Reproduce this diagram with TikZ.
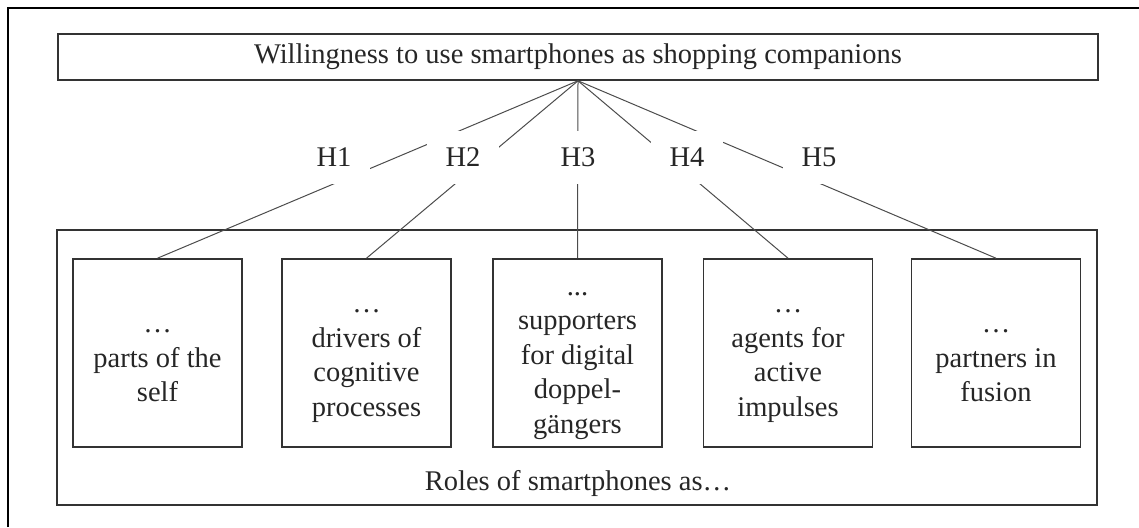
\documentclass[tikz,border=0pt]{standalone}
\usepackage{fontspec}
\setmainfont{Liberation Serif}
\begin{document}
\begin{tikzpicture}[x=1pt,y=-1pt,
  every node/.style={font=\fontsize{28.5}{34.5}\selectfont, text=black!85},
  framebox/.style={draw=black!80, line width=1.6pt, inner sep=0pt},
  rolebox/.style={framebox, minimum width=169pt, minimum height=188pt},
  roletext/.style={align=center, inner sep=0pt},
  hlab/.style={fill=white, minimum width=72pt, minimum height=53pt, inner sep=0pt},
  conn/.style={draw=black!70, line width=1pt}]
  \useasboundingbox (0,0) rectangle (1139,527);
  % page frame (left and top edges only)
  \draw[line width=2pt, black] (8,527) -- (8,8) -- (1139,8);

  % outcome box
  \node[framebox, minimum width=1040pt, minimum height=46pt] (top) at (578,57)
    {Willingness to use smartphones as shopping companions};

  % enclosing box for the roles
  \node[framebox, minimum width=1040pt, minimum height=275pt] (roles) at (577,367.5) {};
  \node (rolestext) at (578,483) {Roles of smartphones as…};

  % role boxes
  \node[rolebox] (b1) at (157.5,353) {};
  \node[rolebox] (b2) at (366.5,353) {};
  \node[rolebox] (b3) at (577.5,353) {};
  \node[rolebox] (b4) at (788,353) {};
  \node[rolebox] (b5) at (996,353) {};

  % role texts, set slightly below the box centres
  \node[roletext] (t1) at (157.5,366) {…\\parts of the\\self};
  \node[roletext] (t2) at (366.5,366) {…\\drivers of\\cognitive\\processes};
  \node[roletext] (t3) at (577.5,366) {...\\supporters\\for digital\\doppel-\\gängers};
  \node[roletext] (t4) at (788,366) {…\\agents for\\active\\impulses};
  \node[roletext] (t5) at (996,366) {…\\partners in\\fusion};

  % hypothesis paths
  \draw[conn] (top.south) -- (b1.north);
  \draw[conn] (top.south) -- (b2.north);
  \draw[conn] (top.south) -- (b3.north);
  \draw[conn] (top.south) -- (b4.north);
  \draw[conn] (top.south) -- (b5.north);

  % hypothesis labels on white patches
  \node[hlab] (h1) at (334,157.5) {H1};
  \node[hlab] (h2) at (463,157.5) {H2};
  \node[hlab] (h3) at (578,157.5) {H3};
  \node[hlab] (h4) at (687,157.5) {H4};
  \node[hlab] (h5) at (819,157.5) {H5};
\end{tikzpicture}
\end{document}
